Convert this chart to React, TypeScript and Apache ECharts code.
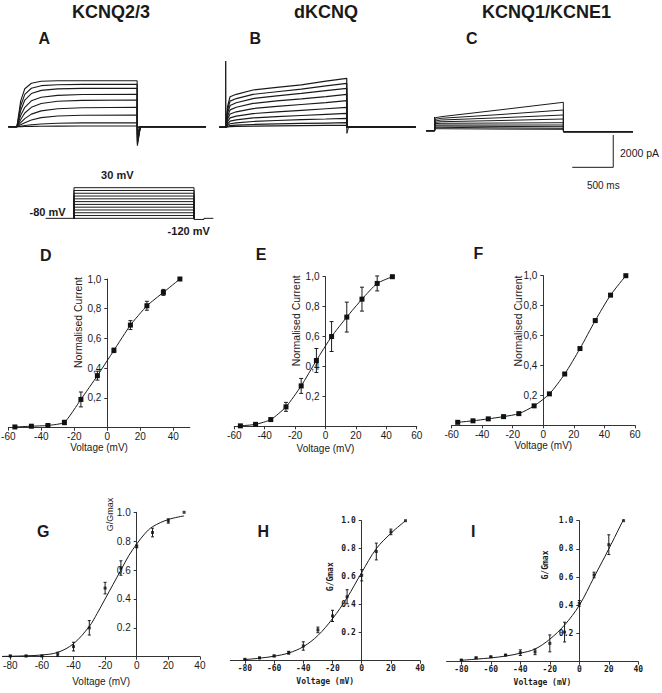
import React, { useEffect, useRef } from 'react';
import * as echarts from 'echarts';

// ---------- titles ----------
const panelTitles = ['KCNQ2/3', 'dKCNQ', 'KCNQ1/KCNE1'];
const panelLetters = ['A', 'B', 'C', 'D', 'E', 'F', 'G', 'H', 'I'];

// ---------- A: KCNQ2/3 current traces (time ms, current pA) ----------
const tracesATimes = [104, 150, 200, 280, 400, 600, 900, 1570];
const tracesA = [
  [0, 1600, 2350, 2690, 2810, 2840, 2848, 2848],
  [0, 1300, 2000, 2380, 2540, 2600, 2620, 2625],
  [0, 1000, 1650, 2050, 2250, 2340, 2370, 2377],
  [0, 700, 1200, 1600, 1820, 1940, 1990, 2006],
  [0, 450, 850, 1200, 1440, 1580, 1630, 1653],
  [0, 250, 500, 780, 980, 1110, 1170, 1201],
  [0, 120, 250, 420, 560, 660, 705, 724],
  [0, 30, 70, 120, 170, 215, 235, 248],
  [0, 5, 10, 20, 30, 38, 41, 43],
];
const tailsA = [-1180, -1050, -950, -800, -650, -480, -290, -100, 0];

// ---------- B: dKCNQ current traces ----------
const tracesBTimes = [77, 100, 130, 206, 410, 700, 1000, 1300, 1554];
const tracesB = [
  [0, 1300, 1894, 2043, 2309, 2470, 2630, 2860, 3033],
  [0, 1100, 1620, 1780, 2040, 2200, 2360, 2560, 2724],
  [0, 900, 1350, 1520, 1780, 1950, 2100, 2270, 2414],
  [0, 700, 1080, 1240, 1480, 1630, 1760, 1900, 2043],
  [0, 520, 820, 960, 1160, 1290, 1410, 1530, 1647],
  [0, 360, 580, 690, 850, 950, 1050, 1150, 1238],
  [0, 220, 380, 460, 580, 660, 730, 800, 867],
  [0, 120, 220, 280, 360, 420, 470, 515, 557],
  [0, 50, 100, 130, 175, 210, 240, 265, 285],
  [0, 20, 40, 55, 75, 90, 105, 115, 124],
];
const transientB = [[76, 0], [77, 4100], [79, 0]];
const offBlipB = [[1554, 0], [1556, -371], [1575, 0]];

// ---------- C: KCNQ1/KCNE1 current traces ----------
const tracesCTimes = [110, 181, 900, 1673];
const tracesC = [
  [800, 867, 1290, 1758],
  [700, 768, 1000, 1281],
  [600, 662, 800, 972],
  [520, 557, 630, 724],
  [440, 458, 475, 495],
  [350, 354, 352, 353],
  [290, 291, 265, 248],
  [210, 210, 175, 149],
  [124, 124, 100, 87],
];
const transientC = [[101, 0], [102, 850], [104, 0]];
const tailC = -60;
// scale bar: 500 ms, 2000 pA (corner anchored in panel C data units)
const scaleBar = [[1782, -2266], [2282, -2266], [2282, -266]];

// ---------- voltage protocol ----------
const protoTimes = [0, 345, 1811, 1932, 2046];
const protoHolding = -80;
const protoSteps = [-80, -70, -60, -50, -40, -30, -20, -10, 0, 10, 20, 30];
const protoTailDrawn = -84; // -120 mV step, drawn compressed as in the figure

// ---------- D/E/F: normalised current vs voltage ----------
const dV = [-56, -46, -36, -26, -16, -6, 4, 14, 24, 34, 44];
const dI = [0.005, 0.01, 0.015, 0.035, 0.19, 0.35, 0.52, 0.69, 0.82, 0.91, 1.0];
const dErr = [0.004, 0.005, 0.006, 0.015, 0.05, 0.03, 0.015, 0.03, 0.03, 0.02, 0];

const eV = [-56, -46, -36, -26, -16, -6, 4, 14, 24, 34, 44];
const eI = [0.003, 0.013, 0.045, 0.13, 0.27, 0.44, 0.6, 0.73, 0.85, 0.955, 1.0];
const eErr = [0.005, 0.004, 0.008, 0.03, 0.05, 0.08, 0.1, 0.1, 0.08, 0.05, 0];

const fV = [-56, -46, -36, -26, -16, -6, 4, 14, 24, 34, 44, 54];
const fI = [0.02, 0.03, 0.043, 0.058, 0.078, 0.13, 0.21, 0.343, 0.513, 0.7, 0.87, 1.0];

// ---------- G/H/I: G/Gmax vs voltage ----------
const gV = [-80, -70, -60, -50, -40, -30, -20, -10, 0, 10, 20, 30];
const gG = [0.005, 0.005, 0.005, 0.016, 0.07, 0.2, 0.475, 0.614, 0.764, 0.86, 0.94, 1.0];
const gErr = [0.005, 0.005, 0.004, 0.015, 0.03, 0.05, 0.04, 0.05, 0.01, 0.03, 0.015, 0];
const gFitV = [-85, -80, -70, -60, -50, -40, -30, -25, -20, -15, -10, -5, 0, 5, 10, 20, 30];
const gFit = [0.002, 0.003, 0.006, 0.012, 0.03, 0.09, 0.21, 0.3, 0.4, 0.5, 0.6, 0.7, 0.78, 0.85, 0.9, 0.95, 0.975];

const hV = [-80, -70, -60, -50, -40, -30, -20, -10, 0, 10, 20, 30];
const hG = [0.01, 0.02, 0.034, 0.057, 0.105, 0.22, 0.32, 0.457, 0.61, 0.78, 0.92, 1.0];
const hErr = [0.003, 0.005, 0.006, 0.01, 0.03, 0.02, 0.04, 0.05, 0.04, 0.06, 0.02, 0];
const hFitV = [-80, -70, -60, -50, -40, -30, -20, -10, 0, 10, 20, 30];
const hFit = [0.008, 0.018, 0.032, 0.055, 0.1, 0.18, 0.3, 0.45, 0.63, 0.8, 0.91, 1.0];

const iV = [-80, -70, -60, -50, -40, -30, -20, -10, 0, 10, 20, 30];
const iG = [0.012, 0.028, 0.035, 0.047, 0.064, 0.07, 0.13, 0.21, 0.414, 0.615, 0.83, 1.0];
const iErr = [0.003, 0.004, 0.004, 0.005, 0.02, 0.02, 0.06, 0.07, 0.02, 0.02, 0.07, 0];
const iFitV = [-80, -70, -60, -50, -40, -30, -20, -10, 0, 10, 20, 30];
const iFit = [0.01, 0.018, 0.027, 0.04, 0.06, 0.09, 0.16, 0.26, 0.4, 0.6, 0.8, 1.01];

const xTicksIV = [-60, -40, -20, 0, 20, 40];
const xTicksIV60 = [-60, -40, -20, 0, 20, 40, 60];
const xTicksGV = [-80, -60, -40, -20, 0, 20, 40];
const yTicks = [0.2, 0.4, 0.6, 0.8, 1.0];

const SANS = "'Liberation Sans', Arial, Helvetica, sans-serif";
const MONO = "'DejaVu Sans Mono', monospace";
const INK = '#1a1a1a';

function buildOption() {
  const grids: any[] = [];
  const xAxes: any[] = [];
  const yAxes: any[] = [];
  const series: any[] = [];

  const addTraceGrid = (left: number, top: number, width: number, height: number, xmax: number, ymin: number, ymax: number) => {
    grids.push({ left, top, width, height, outerBoundsMode: 'none', containLabel: false });
    const idx = grids.length - 1;
    xAxes.push({ gridIndex: idx, type: 'value', min: 0, max: xmax, show: false });
    yAxes.push({ gridIndex: idx, type: 'value', min: ymin, max: ymax, show: false });
    return idx;
  };

  const traceLine = (g: number, data: number[][], width = 1) => ({
    type: 'line', xAxisIndex: g, yAxisIndex: g, data, symbol: 'none', showSymbol: false,
    lineStyle: { color: INK, width }, clip: false, silent: true, z: 2,
  });

  // A
  const idxA = addTraceGrid(8.4, 54.0, 197.6, 113.1, 2410, -2500, 4500);
  tracesA.forEach((tr, k) => {
    const d: number[][] = [[0, 0]];
    tracesATimes.forEach((t, j) => d.push([t, tr[j]]));
    d.push([1573, tailsA[k]], [1610, 0], [2410, 0]);
    series.push(traceLine(idxA, d, 1.1));
  });

  // B
  const idxB = addTraceGrid(219.4, 54.6, 196.2, 113.1, 2394, -2500, 4500);
  tracesB.forEach((tr) => {
    const d: number[][] = [[0, 0]];
    tracesBTimes.forEach((t, j) => d.push([t, tr[j]]));
    d.push([1556, 0], [2394, 0]);
    series.push(traceLine(idxB, d, 1.2));
  });
  series.push(traceLine(idxB, transientB, 1));
  series.push(traceLine(idxB, offBlipB, 1));
  series.push(traceLine(idxB, [[1556, 40], [2394, 40]], 1.5));

  // C
  const idxC = addTraceGrid(426.2, 58.0, 206.8, 113.1, 2523, -2500, 4500);
  tracesC.forEach((tr) => {
    const d: number[][] = [[0, 0], [102, 0]];
    tracesCTimes.forEach((t, j) => d.push([t, tr[j]]));
    d.push([1675, tailC], [2523, tailC]);
    series.push(traceLine(idxC, d, 1));
  });
  series.push(traceLine(idxC, transientC, 1));
  series.push(traceLine(idxC, scaleBar, 1));

  // protocol
  grids.push({ left: 45.7, top: 184.9, width: 167.6, height: 39, outerBoundsMode: 'none' });
  const idxP = grids.length - 1;
  xAxes.push({ gridIndex: idxP, type: 'value', min: 0, max: 2046, show: false });
  yAxes.push({ gridIndex: idxP, type: 'value', min: -100, max: 40, show: false });
  series.push(traceLine(idxP, [[protoTimes[0], protoHolding], [protoTimes[1], protoHolding]], 1));
  protoSteps.forEach((v) => {
    series.push(traceLine(idxP, [[protoTimes[1], protoHolding], [protoTimes[1], v], [protoTimes[2], v], [protoTimes[2], protoHolding]], 1));
  });
  series.push(traceLine(idxP, [[protoTimes[2], protoHolding], [protoTimes[2], protoTailDrawn], [protoTimes[3], protoTailDrawn], [protoTimes[3], protoHolding], [protoTimes[4], protoHolding]], 1));

  // IV / GV panel helper: y axis drawn through x = 0 via axis offset
  const addIVGrid = (
    left: number, top: number, width: number, height: number, xmin: number, xmax: number,
    xticks: number[], font: string, fontSize: number, fontWeight: string, fmt: (v: number) => string, nameGap: number
  ) => {
    grids.push({ left, top, width, height, outerBoundsMode: 'none', containLabel: false });
    const idx = grids.length - 1;
    const lab = { fontFamily: font, fontSize, fontWeight, color: INK };
    xAxes.push({
      gridIndex: idx, type: 'value', min: xmin, max: xmax,
      axisLine: { show: true, onZero: false, lineStyle: { color: '#333', width: 1 } },
      axisTick: { show: true, customValues: xticks, length: 3, inside: false, lineStyle: { color: '#333' } },
      axisLabel: { show: true, customValues: xticks, margin: 4, ...lab, formatter: (v: number) => String(v) },
      splitLine: { show: false },
      name: 'Voltage (mV)', nameLocation: 'middle', nameGap,
      nameTextStyle: { ...lab, fontSize: fontSize },
    });
    const zeroOffset = ((0 - xmin) / (xmax - xmin)) * width;
    yAxes.push({
      gridIndex: idx, type: 'value', min: 0, max: 1, position: 'left', offset: -zeroOffset,
      axisLine: { show: true, onZero: false, lineStyle: { color: '#333', width: 1 } },
      axisTick: { show: true, customValues: yTicks, length: 3, inside: false, lineStyle: { color: '#333' } },
      axisLabel: { show: true, customValues: yTicks, margin: 6, ...lab, formatter: fmt },
      splitLine: { show: false },
    });
    return idx;
  };

  const errBars = (g: number, xs: number[], ys: number[], es: number[], cap: number) => ({
    type: 'custom', xAxisIndex: g, yAxisIndex: g, clip: false, silent: true, z: 3,
    encode: { x: 0, y: 1 },
    data: xs.map((x, i) => [x, ys[i], es[i]]).filter((d) => d[2] > 0),
    renderItem: (_p: any, api: any) => {
      const x = api.value(0), y = api.value(1), e = api.value(2);
      const p1 = api.coord([x, y + e]);
      const p2 = api.coord([x, y - e]);
      const style = { stroke: INK, lineWidth: 1, fill: 'none' };
      return {
        type: 'group',
        children: [
          { type: 'line', shape: { x1: p1[0], y1: p1[1], x2: p2[0], y2: p2[1] }, style },
          { type: 'line', shape: { x1: p1[0] - cap, y1: p1[1], x2: p1[0] + cap, y2: p1[1] }, style },
          { type: 'line', shape: { x1: p2[0] - cap, y1: p2[1], x2: p2[0] + cap, y2: p2[1] }, style },
        ],
      };
    },
  });

  const pointLine = (g: number, xs: number[], ys: number[], size: number, smooth: number) => ({
    type: 'line', xAxisIndex: g, yAxisIndex: g, data: xs.map((x, i) => [x, ys[i]]),
    symbol: 'rect', symbolSize: size, showSymbol: true, smooth,
    itemStyle: { color: '#111' }, lineStyle: { color: INK, width: 1 }, clip: false, silent: true, z: 4,
  });
  const fitLine = (g: number, xs: number[], ys: number[]) => ({
    type: 'line', xAxisIndex: g, yAxisIndex: g, data: xs.map((x, i) => [x, ys[i]]),
    symbol: 'none', showSymbol: false, smooth: 0.35,
    lineStyle: { color: INK, width: 1 }, clip: false, silent: true, z: 3,
  });
  const points = (g: number, xs: number[], ys: number[], size: number) => ({
    type: 'scatter', xAxisIndex: g, yAxisIndex: g, data: xs.map((x, i) => [x, ys[i]]),
    symbol: 'rect', symbolSize: size, itemStyle: { color: '#111' }, clip: false, silent: true, z: 4,
  });

  const comma = (v: number) => v.toFixed(1).replace('.', ',');
  const dot = (v: number) => v.toFixed(1);

  const idxD = addIVGrid(8.3, 279, 181.5, 148.7, -60, 50, xTicksIV, SANS, 10, 'normal', comma, 14);
  series.push(errBars(idxD, dV, dI, dErr, 2));
  series.push(pointLine(idxD, dV, dI, 5, 0.15));

  const idxE = addIVGrid(234.3, 276.7, 182.4, 149.6, -60, 60, xTicksIV60, SANS, 10, 'normal', comma, 17);
  series.push(errBars(idxE, eV, eI, eErr, 2));
  series.push(pointLine(idxE, eV, eI, 5, 0.2));

  const idxF = addIVGrid(451.6, 275.7, 183.4, 149.6, -60, 60, xTicksIV60, SANS, 10, 'normal', comma, 15);
  series.push(pointLine(idxF, fV, fI, 5, 0.25));

  const idxG = addIVGrid(2.4, 512.3, 197.5, 144.4, -85, 40, xTicksGV, SANS, 10, 'normal', dot, 20);
  series.push(fitLine(idxG, gFitV, gFit));
  series.push(errBars(idxG, gV, gG, gErr, 1.5));
  series.push(points(idxG, gV, gG, 3));

  const idxH = addIVGrid(230.3, 520.7, 189.8, 140, -90, 40, xTicksGV, MONO, 8, 'bold', dot, 17);
  series.push(fitLine(idxH, hFitV, hFit));
  series.push(errBars(idxH, hV, hG, hErr, 1.5));
  series.push(points(idxH, hV, hG, 3));

  const idxI = addIVGrid(446.6, 520.7, 191.7, 141, -90, 40, xTicksGV, MONO, 8, 'bold', dot, 17);
  series.push(fitLine(idxI, iFitV, iFit));
  series.push(errBars(idxI, iV, iG, iErr, 1.5));
  series.push(points(idxI, iV, iG, 3));

  // ---------- texts ----------
  const txt = (text: string, x: number, y: number, font: string, rotation = 0, align = 'center') => ({
    type: 'text', x, y, rotation, silent: true, z: 10,
    style: { text, font, fill: INK, textAlign: align, textVerticalAlign: 'middle', align, verticalAlign: 'middle' },
  });
  const titleFont = `bold 18px ${SANS}`;
  const letterFont = `bold 16px ${SANS}`;
  const graphic: any[] = [
    txt(panelTitles[0], 111, 11.7, titleFont),
    txt(panelTitles[1], 326, 11.7, titleFont),
    txt(panelTitles[2], 546.4, 11.7, titleFont),
    txt(panelLetters[0], 44.3, 38.3, letterFont),
    txt(panelLetters[1], 255.3, 38.3, letterFont),
    txt(panelLetters[2], 471.7, 38.3, letterFont),
    txt(panelLetters[3], 45.7, 255.7, letterFont),
    txt(panelLetters[4], 261, 254.3, letterFont),
    txt(panelLetters[5], 478.3, 253.3, letterFont),
    txt(panelLetters[6], 43.3, 531.7, letterFont),
    txt(panelLetters[7], 263.3, 531.7, letterFont),
    txt(panelLetters[8], 473.3, 531.7, letterFont),
    txt('30 mV', 117.3, 175, `bold 11px ${SANS}`),
    txt('-80 mV', 47.5, 211.5, `bold 11px ${SANS}`),
    txt('-120 mV', 188.7, 231, `bold 11px ${SANS}`),
    txt('2000 pA', 620, 153.3, `10.5px ${SANS}`, 0, 'left'),
    txt('500 ms', 603.3, 185.7, `10px ${SANS}`),
    txt('Normalised Current', 78, 322.5, `10.5px ${SANS}`, Math.PI / 2),
    txt('Normalised Current', 296, 320.8, `10.5px ${SANS}`, Math.PI / 2),
    txt('Normalised Current', 518.3, 321, `10.5px ${SANS}`, Math.PI / 2),
    txt('G/Gmax', 110, 514.5, `9px ${SANS}`, Math.PI / 2),
    txt('G/Gmax', 330, 576.7, `bold 8px ${MONO}`, Math.PI / 2),
    txt('G/Gmax', 545, 565, `bold 8px ${MONO}`, Math.PI / 2),
  ];

  return {
    animation: false,
    backgroundColor: '#ffffff',
    grid: grids,
    xAxis: xAxes,
    yAxis: yAxes,
    series,
    graphic,
  };
}

export default function App() {
  const ref = useRef<HTMLDivElement>(null);
  useEffect(() => {
    if (!ref.current) return;
    const chart = echarts.init(ref.current, null, { renderer: 'svg' });
    chart.setOption(buildOption() as any);
    return () => chart.dispose();
  }, []);
  return (
    <div
      ref={ref}
      style={{ position: 'fixed', left: 0, top: 0, width: 662, height: 693, background: '#fff' }}
    />
  );
}
